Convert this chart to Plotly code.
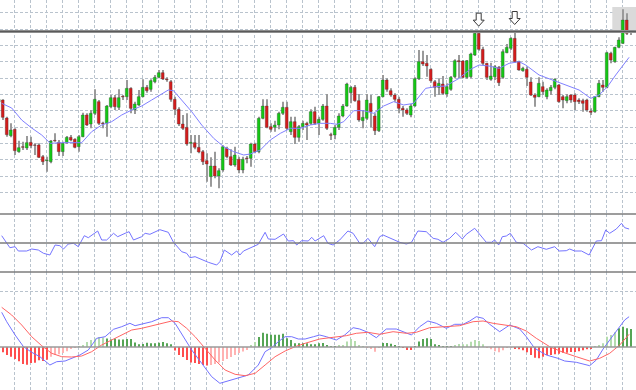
import plotly.graph_objects as go

# ---------------- data ----------------
opens = [1.2294, 1.2300, 1.2246, 1.2193, 1.2212, 1.2145, 1.2160, 1.2156, 1.2173, 1.2165,
         1.2165, 1.2130, 1.2118, 1.2115, 1.2179, 1.2173, 1.2145, 1.2172, 1.2188, 1.2182,
         1.2160, 1.2190, 1.2255, 1.2228, 1.2260, 1.2295, 1.2231, 1.2230, 1.2280, 1.2307,
         1.2278, 1.2311, 1.2310, 1.2335, 1.2270, 1.2285, 1.2310, 1.2338, 1.2332, 1.2355,
         1.2368, 1.2382, 1.2363, 1.2355, 1.2302, 1.2272, 1.2228, 1.2218, 1.2170, 1.2172,
         1.2158, 1.2145, 1.2118, 1.2070, 1.2102, 1.2072, 1.2090, 1.2155, 1.2130, 1.2105,
         1.2122, 1.2090, 1.2126, 1.2125, 1.2168, 1.2145, 1.2245, 1.2282, 1.2220, 1.2218,
         1.2225, 1.2260, 1.2278, 1.2205, 1.2235, 1.2188, 1.2220, 1.2230, 1.2230, 1.2265,
         1.2230, 1.2242, 1.2282, 1.2196, 1.2195, 1.2218, 1.2252, 1.2282, 1.2322, 1.2338,
         1.2298, 1.2238, 1.2245, 1.2290, 1.2252, 1.2208, 1.2310, 1.2360, 1.2328, 1.2315,
         1.2302, 1.2275, 1.2270, 1.2255, 1.2282, 1.2364, 1.2415, 1.2410, 1.2392, 1.2355,
         1.2338, 1.2348, 1.2318, 1.2332, 1.2370, 1.2418, 1.2417, 1.2368, 1.2370, 1.2435,
         1.2500, 1.2452, 1.2410, 1.2362, 1.2370, 1.2398, 1.2368, 1.2442, 1.2455, 1.2485,
         1.2415, 1.2388, 1.2392, 1.2354, 1.2315, 1.2310, 1.2340, 1.2310, 1.2328, 1.2338,
         1.2345, 1.2310, 1.2298, 1.2315, 1.2315, 1.2300, 1.2298, 1.2300, 1.2267, 1.2265,
         1.2310, 1.2345, 1.2338, 1.2440, 1.2415, 1.2458, 1.2470, 1.2540, 1.2505]

highs = [1.2330, 1.2302, 1.2250, 1.2230, 1.2215, 1.2178, 1.2175, 1.2192, 1.2190, 1.2170,
         1.2170, 1.2135, 1.2130, 1.2180, 1.2200, 1.2180, 1.2175, 1.2192, 1.2195, 1.2185,
         1.2195, 1.2262, 1.2260, 1.2270, 1.2332, 1.2300, 1.2235, 1.2285, 1.2315, 1.2315,
         1.2332, 1.2315, 1.2360, 1.2338, 1.2295, 1.2330, 1.2362, 1.2345, 1.2362, 1.2375,
         1.2390, 1.2390, 1.2368, 1.2360, 1.2310, 1.2278, 1.2255, 1.2260, 1.2195, 1.2195,
         1.2195, 1.2150, 1.2140, 1.2128, 1.2145, 1.2095, 1.2164, 1.2160, 1.2152, 1.2160,
         1.2130, 1.2130, 1.2132, 1.2172, 1.2172, 1.2250, 1.2302, 1.2302, 1.2230, 1.2238,
         1.2265, 1.2295, 1.2295, 1.2250, 1.2250, 1.2225, 1.2238, 1.2235, 1.2272, 1.2280,
         1.2250, 1.2288, 1.2318, 1.2202, 1.2225, 1.2260, 1.2288, 1.2352, 1.2342, 1.2345,
         1.2318, 1.2270, 1.2318, 1.2315, 1.2260, 1.2312, 1.2375, 1.2365, 1.2335, 1.2320,
         1.2310, 1.2282, 1.2275, 1.2288, 1.2368, 1.2450, 1.2448, 1.2435, 1.2395, 1.2360,
         1.2365, 1.2372, 1.2350, 1.2372, 1.2422, 1.2435, 1.2420, 1.2420, 1.2442, 1.2502,
         1.2502, 1.2460, 1.2412, 1.2412, 1.2405, 1.2402, 1.2452, 1.2468, 1.2488, 1.2507,
         1.2418, 1.2400, 1.2400, 1.2368, 1.2320, 1.2368, 1.2355, 1.2335, 1.2345, 1.2365,
         1.2348, 1.2315, 1.2318, 1.2318, 1.2320, 1.2305, 1.2304, 1.2304, 1.2275, 1.2312,
         1.2360, 1.2360, 1.2445, 1.2445, 1.2460, 1.2488, 1.2572, 1.2560, 1.2510]

lows = [1.2265, 1.2240, 1.2190, 1.2188, 1.2135, 1.2142, 1.2150, 1.2150, 1.2155, 1.2135,
        1.2126, 1.2105, 1.2085, 1.2110, 1.2175, 1.2132, 1.2132, 1.2168, 1.2176, 1.2155,
        1.2145, 1.2188, 1.2222, 1.2215, 1.2255, 1.2225, 1.2215, 1.2190, 1.2275, 1.2270,
        1.2270, 1.2300, 1.2300, 1.2260, 1.2258, 1.2282, 1.2308, 1.2322, 1.2325, 1.2350,
        1.2365, 1.2360, 1.2355, 1.2295, 1.2255, 1.2222, 1.2210, 1.2163, 1.2140, 1.2152,
        1.2140, 1.2105, 1.2055, 1.2040, 1.2065, 1.2035, 1.2085, 1.2125, 1.2102, 1.2100,
        1.2080, 1.2080, 1.2110, 1.2100, 1.2140, 1.2140, 1.2242, 1.2215, 1.2205, 1.2205,
        1.2212, 1.2255, 1.2210, 1.2195, 1.2168, 1.2175, 1.2210, 1.2180, 1.2225, 1.2225,
        1.2195, 1.2238, 1.2210, 1.2180, 1.2182, 1.2210, 1.2248, 1.2280, 1.2290, 1.2295,
        1.2235, 1.2215, 1.2240, 1.2218, 1.2195, 1.2204, 1.2308, 1.2325, 1.2310, 1.2295,
        1.2260, 1.2250, 1.2255, 1.2248, 1.2280, 1.2360, 1.2402, 1.2370, 1.2352, 1.2310,
        1.2315, 1.2315, 1.2310, 1.2328, 1.2365, 1.2365, 1.2365, 1.2363, 1.2365, 1.2432,
        1.2448, 1.2405, 1.2360, 1.2358, 1.2360, 1.2342, 1.2364, 1.2440, 1.2450, 1.2412,
        1.2388, 1.2385, 1.2342, 1.2312, 1.2280, 1.2308, 1.2315, 1.2302, 1.2315, 1.2332,
        1.2292, 1.2275, 1.2290, 1.2292, 1.2270, 1.2288, 1.2265, 1.2265, 1.2255, 1.2262,
        1.2308, 1.2325, 1.2335, 1.2410, 1.2412, 1.2455, 1.2468, 1.2495, 1.2495]

closes = [1.2302, 1.2248, 1.2196, 1.2210, 1.2148, 1.2157, 1.2158, 1.2172, 1.2163, 1.2164,
          1.2128, 1.2115, 1.2120, 1.2177, 1.2177, 1.2145, 1.2170, 1.2188, 1.2180, 1.2158,
          1.2190, 1.2255, 1.2225, 1.2260, 1.2302, 1.2230, 1.2229, 1.2282, 1.2307, 1.2280,
          1.2307, 1.2309, 1.2335, 1.2275, 1.2288, 1.2310, 1.2338, 1.2328, 1.2358, 1.2368,
          1.2382, 1.2363, 1.2361, 1.2302, 1.2272, 1.2228, 1.2215, 1.2168, 1.2173, 1.2158,
          1.2144, 1.2115, 1.2108, 1.2102, 1.2072, 1.2088, 1.2160, 1.2130, 1.2105, 1.2135,
          1.2090, 1.2122, 1.2124, 1.2168, 1.2145, 1.2245, 1.2282, 1.2218, 1.2212, 1.2225,
          1.2260, 1.2278, 1.2215, 1.2235, 1.2188, 1.2220, 1.2230, 1.2225, 1.2265, 1.2230,
          1.2242, 1.2282, 1.2215, 1.2194, 1.2218, 1.2252, 1.2282, 1.2348, 1.2338, 1.2298,
          1.2240, 1.2248, 1.2300, 1.2265, 1.2208, 1.2310, 1.2360, 1.2332, 1.2315, 1.2302,
          1.2275, 1.2270, 1.2260, 1.2282, 1.2364, 1.2415, 1.2408, 1.2402, 1.2358, 1.2338,
          1.2350, 1.2320, 1.2340, 1.2368, 1.2418, 1.2415, 1.2368, 1.2418, 1.2438, 1.2500,
          1.2452, 1.2410, 1.2368, 1.2372, 1.2400, 1.2352, 1.2445, 1.2458, 1.2485, 1.2415,
          1.2390, 1.2395, 1.2368, 1.2315, 1.2308, 1.2350, 1.2325, 1.2330, 1.2338, 1.2362,
          1.2295, 1.2300, 1.2310, 1.2300, 1.2295, 1.2295, 1.2290, 1.2270, 1.2263, 1.2310,
          1.2350, 1.2338, 1.2442, 1.2420, 1.2458, 1.2480, 1.2540, 1.2500, 1.2503]

# moving average (blue line on price panel)
ma_x = [0.75, 3.25, 5.75, 8.25, 10.75, 12.9, 15.75, 20.75, 23.25, 25.75,
        28.25, 30.75, 33.25, 35.75, 38.25, 40.75, 42.4, 43.7, 45.75, 48.25,
        50.75, 53.75, 56.25, 58.75, 61.25, 62.9, 65.4, 67.9, 70.4, 72.9,
        75.4, 77.9, 80.4, 82.9, 84.6, 86.25, 88.75, 91.25, 93.75, 96.25,
        98.75, 101.25, 103.75, 106.75, 109.25, 111.75, 115.1, 117.6, 120.1, 122.6,
        125.1, 127.6, 130.1, 131.75, 135.1, 138.4, 141.75, 145.1, 148, 150.1,
        152.2, 154.25, 157.6]
ma_v = [1.2290, 1.2276, 1.2240, 1.2216, 1.2195, 1.2170, 1.2172, 1.2172, 1.2205, 1.2225,
        1.2235, 1.2255, 1.2270, 1.2282, 1.2300, 1.2318, 1.2330, 1.2328, 1.2300, 1.2265,
        1.2225, 1.2185, 1.2160, 1.2145, 1.2135, 1.2138, 1.2150, 1.2180, 1.2200, 1.2215,
        1.2215, 1.2225, 1.2230, 1.2230, 1.2227, 1.2235, 1.2268, 1.2268, 1.2260, 1.2282,
        1.2295, 1.2285, 1.2290, 1.2335, 1.2340, 1.2342, 1.2365, 1.2390, 1.2405, 1.2402,
        1.2395, 1.2410, 1.2415, 1.2405, 1.2375, 1.2360, 1.2345, 1.2330, 1.2305, 1.2315,
        1.2340, 1.2375, 1.2428]

# oscillator (middle panel)
rsi_x = [0.75, 2, 2.8, 4.1, 4.9, 7, 8.25, 9.9, 11.2, 12.8,
         14.1, 15.3, 16.2, 17.4, 18.7, 19.9, 21.4, 22.4, 23.4, 24.75,
         25.75, 27, 28.7, 29.75, 31.6, 32.6, 33.7, 35.75, 36.6, 37.8,
         40.3, 42.4, 43.7, 45.75, 47, 47.8, 49.1, 52.4, 54.5, 55.3,
         56.4, 58.25, 59.5, 60.3, 61.2, 62.8, 64.1, 64.9, 66.6, 67.4,
         69.1, 71.2, 72.4, 73.7, 74.5, 75.75, 77.4, 78.25, 79.1, 80.25,
         81.25, 82.3, 83.6, 85.25, 87.3, 88.6, 90.25, 91.1, 92.3, 94,
         95.25, 96.1, 100.25, 101.9, 103.2, 104.8, 106.9, 108.6, 109.8, 111.1,
         112.75, 114.25, 115.9, 116.9, 119, 121.9, 123.2, 124, 125, 125.9,
         126.9, 127.9, 129.4, 131.1, 133.2, 134.8, 136.9, 139, 140.1, 141.9,
         142.75, 144, 145.7, 147.6, 149.4, 150.7, 151.75, 152.75, 154.4, 155.7,
         156.5, 157.6]
rsi_v = [57.3, 49.7, 45.3, 46.3, 42, 42, 44, 43, 39.7, 38,
         48, 47.3, 44, 49, 49.7, 46.3, 57.3, 55.3, 58, 62,
         53, 53, 59.7, 56.3, 59.7, 61.3, 53, 56.3, 59.7, 58.7,
         63.3, 60.7, 50.7, 41.3, 39.7, 35.3, 36.3, 30.7, 28, 31.3,
         43, 38, 42, 38, 42, 44.7, 47.3, 48.7, 60.7, 54,
         53.7, 59, 52, 52.3, 48, 52.3, 52, 55.7, 52, 54.7,
         57.3, 49.7, 48, 53, 62, 59.7, 49.7, 49.7, 54.7, 46.3,
         56.3, 58, 50.7, 49, 50.7, 62, 61.3, 54.7, 53.7, 50.7,
         54.7, 60.7, 54, 58.7, 64.7, 50.7, 50.7, 53, 48, 56.3,
         57, 59.7, 50.7, 49.7, 43, 46.3, 43.7, 46.3, 42, 42.3,
         44, 42, 42, 38, 52, 52.3, 63, 59.7, 64, 69.7,
         65.3, 64]

# MACD main line, signal line and histogram (bottom panel)
macd_x = [0.75, 2, 4.1, 6.2, 8.25, 10.3, 12.8, 14.5, 16.6, 18.7,
          20.3, 22.4, 24.5, 26.6, 28.7, 30.75, 32.8, 34.1, 35.75, 38.25,
          40.75, 42.4, 44.1, 46.2, 48.25, 50.75, 53.25, 55.3, 57.4, 59.9,
          62.4, 64.9, 66.6, 68.25, 69.9, 71.6, 73.25, 74.9, 76.6, 78.7,
          80.25, 81.9, 84.4, 86.5, 88.6, 90.25, 92.3, 94.4, 96.9, 99.4,
          101.5, 103.2, 105.25, 107.3, 109.4, 111.9, 114, 116.1, 117.75, 119.4,
          121.1, 122.75, 125.25, 127.75, 130.25, 131.9, 134, 136.9, 139.8, 141.5,
          144.4, 147.75, 149.4, 151.1, 152.75, 154.8, 156.5, 157.6]
macd_v = [3.47, 2.53, 1.2, 0.03, -0.53, -0.97, -1.8, -1.47, -1.4, -1.07,
          -0.8, -0.3, 0.87, 1.03, 1.77, 2.03, 2.37, 2.13, 2.27, 2.53,
          2.93, 2.93, 2.37, 1.03, -0.3, -1.63, -2.97, -3.63, -3.4, -3.13,
          -2.8, -1.8, -0.47, -0.07, 0.53, 1.03, 1.03, 0.8, 0.8, 1.03,
          1.2, 1.03, 0.7, 1.2, 1.93, 1.8, 1.47, 0.93, 1.8, 1.8,
          1.47, 1.2, 2.03, 2.6, 2.37, 1.87, 2.27, 2.27, 2.6, 3.03,
          2.87, 2.27, 1.53, 2.2, 1.8, 1.03, -0.13, -0.8, -1.13, -1.4,
          -1.53, -1.87, -1.3, -0.2, 0.7, 1.8, 2.7, 3.03]
sig_x = [0.75, 3.25, 5.75, 8.25, 10.75, 13.25, 15.75, 18.25, 20.75, 23.25,
         25.75, 28.25, 30.75, 33.25, 35.75, 38.25, 40.75, 43.25, 44.9, 47,
         49.1, 51.6, 54.1, 56.6, 59.1, 61.6, 64.1, 66.6, 69.1, 71.6,
         74.1, 76.6, 80.25, 83.6, 86.9, 89.4, 92.3, 95.25, 98.6, 101.9,
         104.4, 107.75, 111.9, 115.25, 118.6, 121.1, 123.6, 126.1, 129.4, 131.9,
         134.4, 137.75, 141.1, 144.4, 147.75, 150.25, 152.75, 155.25, 157.6]
sig_v = [3.97, 3.2, 2.2, 1.03, 0.13, -0.63, -0.97, -1.0, -0.9, -0.47,
         0.2, 0.7, 1.27, 1.7, 1.87, 2.1, 2.37, 2.6, 2.53, 1.87,
         1.03, -0.13, -1.3, -2.3, -2.73, -2.87, -2.63, -1.8, -0.97, -0.4,
         0.03, 0.37, 0.8, 0.97, 1.13, 1.37, 1.47, 1.27, 1.53, 1.37,
         1.47, 1.93, 2.03, 2.13, 2.53, 2.6, 2.37, 2.2, 2.03, 1.6,
         0.87, 0.03, -0.53, -0.97, -1.4, -1.13, -0.63, 0.2, 1.27]
hist = [-0.4, -0.53, -0.8, -0.97, -1.2, -1.43, -1.7, -1.77, -1.6, -1.57,
        -1.33, -1.4, -1.27, -0.97, -0.8, -0.73, -0.6, -0.43, -0.2, -0.05,
        0.02, 0.13, 0.5, 0.7, 0.85, 1.0, 0.95, 0.85, 0.75, 0.85,
        0.75, 0.75, 0.8, 0.8, 0.45, 0.27, 0.3, 0.43, 0.37, 0.37,
        0.43, 0.5, 0.37, 0.27, -0.35, -0.8, -1.0, -1.3, -1.55, -1.6,
        -1.7, -1.8, -1.85, -1.8, -1.7, -1.55, -1.4, -1.2, -1.0, -0.8,
        -0.6, -0.45, -0.3, 0.2, 0.5, 1.0, 1.43, 1.33, 1.23, 1.23,
        1.23, 1.33, 0.87, 0.7, 0.37, 0.37, 0.37, 0.37, 0.27, 0.27,
        0.37, 0.4, 0.2, 0.1, 0.05, 0.15, 0.2, 0.55, 0.8, 0.6,
        0.2, 0.05, -0.1, -0.2, -0.47, -0.05, 0.4, 0.4, 0.33, 0.2,
        0.05, -0.1, -0.3, -0.3, 0.05, 0.55, 0.8, 0.87, 0.8, 0.27,
        0.13, 0.05, 0.05, 0.1, 0.2, 0.3, 0.27, 0.27, 0.53, 0.7,
        0.6, 0.27, -0.1, -0.23, -0.43, -0.53, -0.33, -0.1, -0.05, -0.15,
        -0.23, -0.33, -0.53, -0.8, -1.07, -1.13, -0.97, -0.8, -0.8, -0.73,
        -0.67, -0.57, -0.57, -0.5, -0.5, -0.43, -0.33, -0.23, -0.17, 0.05,
        0.2, 0.37, 1.03, 1.2, 1.47, 1.87, 2.03, 1.87, 1.8]

price_grid = [1.2562, 1.2513, 1.2464, 1.2415, 1.2366, 1.2317, 1.2268,
              1.2219, 1.2170, 1.2121, 1.2072, 1.2023]
resistance = 1.25055          # horizontal level line
marked_bars = [120, 129]      # bars marked with arrows
zone_start = 153.4            # shaded zone at the right edge (bar index)
zone_low, zone_high = 1.2504, 1.2579
osc_mid = 50
hist_grid = [5.6]

# ---------------- figure ----------------
W, H = 636, 390
main_bot = 1 - 214 / H
osc_bot = 1 - 272 / H

n = min(len(opens), len(highs), len(lows), len(closes))
idx = list(range(n))

fig = go.Figure()

# wicks (thin bars so that the bodies are drawn on top of them)
fig.add_trace(go.Bar(x=idx, y=[highs[i] - lows[i] for i in idx], base=lows, width=0.24,
                     marker=dict(color="#9a9a9a", line=dict(width=0)),
                     hoverinfo="skip", showlegend=False, yaxis="y"))

# bodies
min_body = 0.00012
base = [min(opens[i], closes[i]) for i in idx]
height = [max(abs(closes[i] - opens[i]), min_body) for i in idx]
up = [closes[i] >= opens[i] for i in idx]
body_col = ["#14c814" if u else "#d41c1c" for u in up]
fig.add_trace(go.Bar(x=idx, y=height, base=base, width=0.72,
                     marker=dict(color=body_col, line=dict(color="#303030", width=0.3)),
                     hoverinfo="skip", showlegend=False, yaxis="y"))

# moving average
fig.add_trace(go.Scatter(x=ma_x, y=ma_v, mode="lines", line=dict(color="#8080ff", width=1),
                         hoverinfo="skip", showlegend=False, yaxis="y"))

# oscillator
fig.add_trace(go.Scatter(x=rsi_x, y=rsi_v, mode="lines", line=dict(color="#7474ff", width=1),
                         hoverinfo="skip", showlegend=False, yaxis="y2"))

# histogram colours
soft_ranges = [(13, 19), (20, 26), (53, 62), (63, 64), (85, 90), (91, 95),
               (114, 121), (122, 128), (149, 154)]
def is_soft(i):
    return any(a <= i <= b for a, b in soft_ranges)
hcol = []
for i, v in enumerate(hist):
    if v >= 0:
        hcol.append("#b4dcae" if is_soft(i) else "#55a555")
    else:
        hcol.append("#ffb2b2" if is_soft(i) else "#ff4e4e")
fig.add_trace(go.Bar(x=list(range(len(hist))), y=hist, width=0.3,
                     marker=dict(color=hcol, line=dict(width=0)),
                     hoverinfo="skip", showlegend=False, yaxis="y3"))

fig.add_trace(go.Scatter(x=macd_x, y=macd_v, mode="lines", line=dict(color="#7272ff", width=1),
                         hoverinfo="skip", showlegend=False, yaxis="y3"))
fig.add_trace(go.Scatter(x=sig_x, y=sig_v, mode="lines", line=dict(color="#ff6464", width=1),
                         hoverinfo="skip", showlegend=False, yaxis="y3"))

grid_col = "#b9c3cd"
grid_dash = "3px,2px"

shapes = []
# shaded zone
shapes.append(dict(type="rect", xref="x", yref="y", x0=zone_start, x1=n + 2,
                   y0=zone_low, y1=zone_high, fillcolor="#dadada",
                   line=dict(width=0), layer="between"))
# level line
shapes.append(dict(type="line", xref="paper", yref="y", x0=0, x1=1,
                   y0=resistance, y1=resistance, line=dict(color="#a0a0a0", width=3.2)))
shapes.append(dict(type="line", xref="paper", yref="y", x0=0, x1=1,
                   y0=resistance, y1=resistance, line=dict(color="#5a5a5a", width=1.4)))
# panel separators and oscillator mid line
for yy in (main_bot, osc_bot):
    shapes.append(dict(type="line", xref="paper", yref="paper", x0=0, x1=1,
                       y0=yy, y1=yy, line=dict(color="#7c7c7c", width=1.4)))
shapes.append(dict(type="line", xref="paper", yref="y2", x0=0, x1=1,
                   y0=osc_mid, y1=osc_mid, line=dict(color="#7c7c7c", width=1.4)))
shapes.append(dict(type="line", xref="paper", yref="y3", x0=0, x1=1,
                   y0=0, y1=0, line=dict(color="#9a9a9a", width=1.6)))
# arrows above marked bars
arrow_path = "M 0 6.5 L -5.5 12.5 L -2.5 12.5 L -2.5 19.5 L 2.5 19.5 L 2.5 12.5 L 5.5 12.5 Z"
for b in marked_bars:
    shapes.append(dict(type="path", xref="x", yref="y", xsizemode="pixel", ysizemode="pixel",
                       xanchor=b, yanchor=highs[b], path=arrow_path,
                       fillcolor="white", line=dict(color="#3a3a3a", width=1)))

axis_common = dict(showticklabels=False, ticks="", zeroline=False, showline=False,
                   fixedrange=True)

fig.update_layout(
    width=W, height=H,
    margin=dict(l=0, r=0, t=0, b=0, pad=0),
    paper_bgcolor="white", plot_bgcolor="white",
    barmode="overlay", showlegend=False,
    shapes=shapes,
    xaxis=dict(range=[0.325, n + 0.325], showgrid=True, gridcolor=grid_col, griddash=grid_dash,
               gridwidth=1, tickmode="linear", tick0=0, dtick=4, anchor="y3", **axis_common),
    yaxis=dict(domain=[main_bot, 1], range=[1.1958, 1.2600], showgrid=True, gridcolor=grid_col,
               griddash=grid_dash, tickmode="array", tickvals=price_grid, **axis_common),
    yaxis2=dict(domain=[osc_bot, main_bot], range=[21, 79], showgrid=False, **axis_common),
    yaxis3=dict(domain=[0, osc_bot], range=[-4.3, 7.5], showgrid=True, gridcolor=grid_col,
                griddash=grid_dash, tickmode="array", tickvals=hist_grid, **axis_common),
)

fig.write_html("out.html", config={"displayModeBar": False},
               post_script="document.body.style.margin='0';document.body.style.overflow='hidden';")
